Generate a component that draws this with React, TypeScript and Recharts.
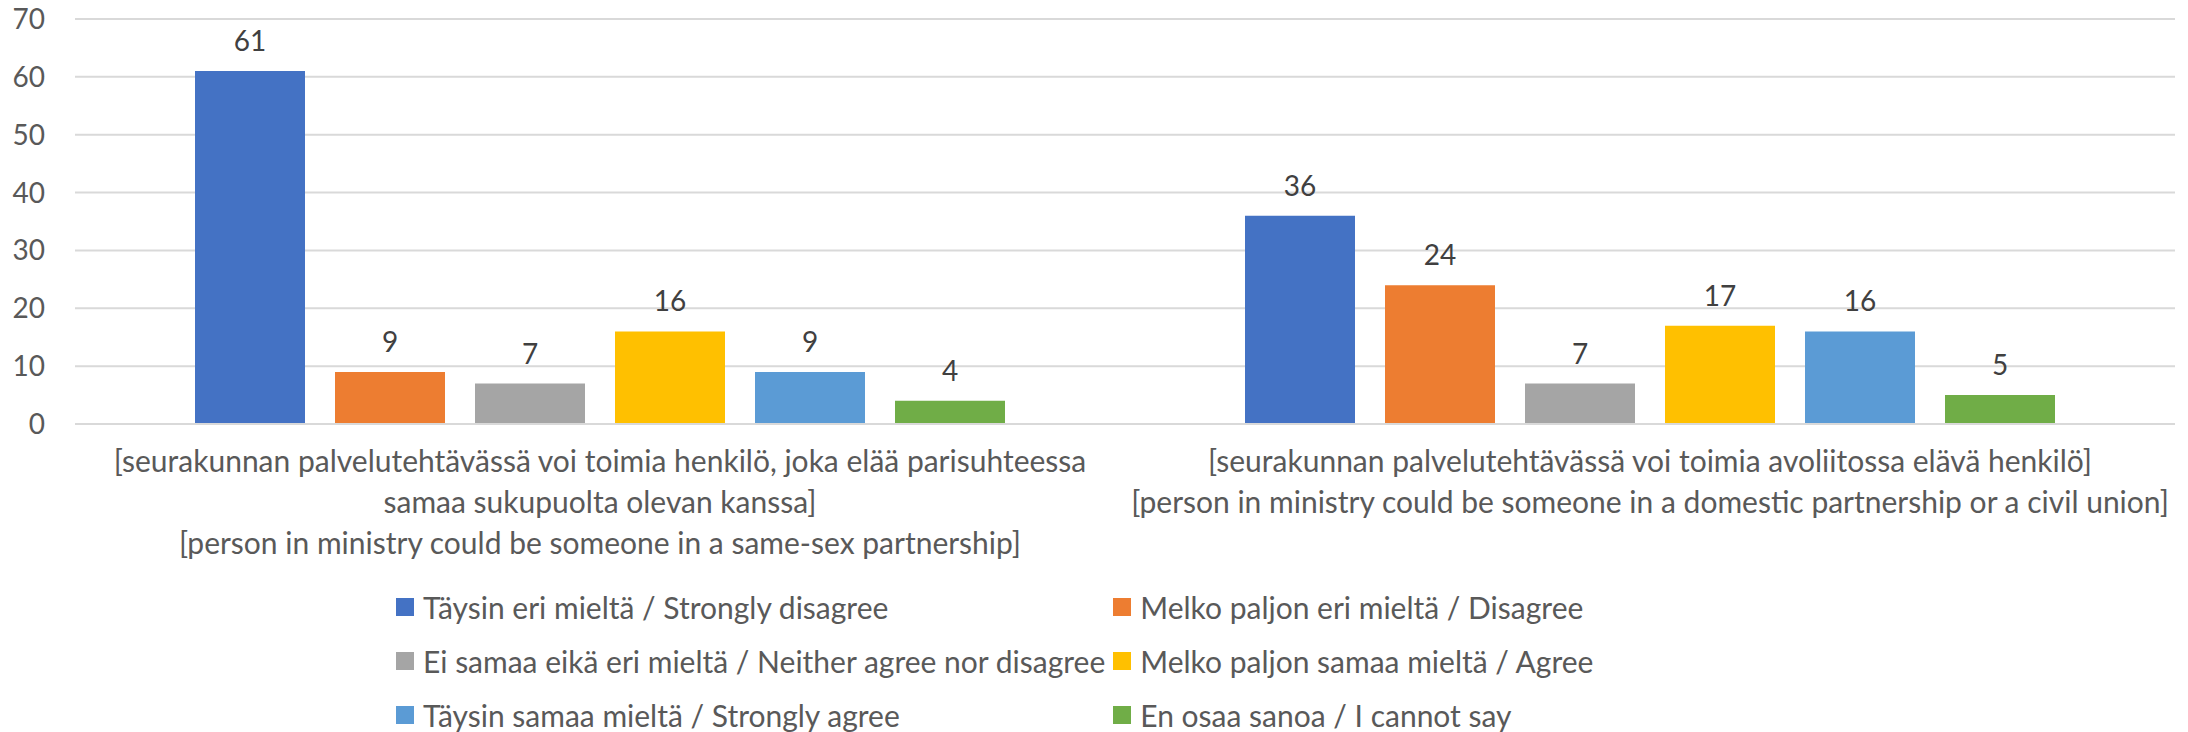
import React from 'react';
import { BarChart, Bar, XAxis, YAxis, CartesianGrid, Legend, LabelList } from 'recharts';

const categories = ['sameSex', 'domestic'];
const categoryLines = [
  [
    '[seurakunnan palvelutehtävässä voi toimia henkilö, joka elää parisuhteessa',
    'samaa sukupuolta olevan kanssa]',
    '[person in ministry could be someone in a same-sex partnership]'
  ],
  [
    '[seurakunnan palvelutehtävässä voi toimia avoliitossa elävä henkilö]',
    '[person in ministry could be someone in a domestic partnership or a civil union]'
  ]
];

const seriesNames = [
  'Täysin eri mieltä / Strongly disagree',
  'Melko paljon eri mieltä / Disagree',
  'Ei samaa eikä eri mieltä / Neither agree nor disagree',
  'Melko paljon samaa mieltä / Agree',
  'Täysin samaa mieltä / Strongly agree',
  'En osaa sanoa / I cannot say'
];
const seriesColors = ['#4472C4', '#ED7D31', '#A5A5A5', '#FFC000', '#5B9BD5', '#70AD47'];

const stronglyDisagree = [61, 36];
const disagree = [9, 24];
const neither = [7, 7];
const agree = [16, 17];
const stronglyAgree = [9, 16];
const cannotSay = [4, 5];
const seriesValues = [stronglyDisagree, disagree, neither, agree, stronglyAgree, cannotSay];

const yTicks = [0, 10, 20, 30, 40, 50, 60, 70];

const data = categories.map((c, i) => {
  const row: Record<string, string | number> = { category: c };
  seriesValues.forEach((vals, s) => {
    row['s' + s] = vals[i];
  });
  return row;
});

const FONT = 'Lato, "Liberation Sans", sans-serif';
const TEXT = '#595959';

function CategoryTick(props: any) {
  const { x, y, payload } = props;
  const idx = categories.indexOf(payload.value);
  const lines = categoryLines[idx] || [];
  return (
    <text x={x} y={y} textAnchor="middle" fill={TEXT} fontSize={30} fontFamily={FONT}>
      {lines.map((l, i) => (
        <tspan key={i} x={x} dy={i === 0 ? 48 : 41}>
          {l}
        </tspan>
      ))}
    </text>
  );
}

function LegendGrid(props: any) {
  // keep series order (the legend sorts by name otherwise)
  const items = [...(props.payload || [])].sort(
    (a: any, b: any) => seriesNames.indexOf(a.value) - seriesNames.indexOf(b.value)
  );
  return (
    <div
      style={{
        display: 'grid',
        gridTemplateColumns: 'max-content max-content',
        justifyContent: 'start',
        columnGap: 8,
        fontFamily: FONT,
        fontSize: 30,
        color: TEXT,
        lineHeight: '54px'
      }}
    >
      {items.map((it: any) => (
        <div key={it.value} style={{ display: 'flex', alignItems: 'center', whiteSpace: 'nowrap' }}>
          <span style={{ width: 18, height: 18, background: it.color, marginRight: 9, flex: 'none' }} />
          <span>{it.value}</span>
        </div>
      ))}
    </div>
  );
}

export default function App() {
  return (
    <div style={{ position: 'absolute', left: 0, top: 0, background: '#fff' }}>
      <BarChart
        width={2188}
        height={732}
        data={data}
        margin={{ top: 19, right: 13, left: 0, bottom: 148 }}
        barCategoryGap={120}
        barGap={30}
      >
        <CartesianGrid vertical={false} stroke="#d9d9d9" strokeWidth={2} />
        <XAxis
          dataKey="category"
          height={160}
          tick={<CategoryTick />}
          tickLine={false}
          tickSize={0}
          tickMargin={0}
          axisLine={{ stroke: '#d9d9d9', strokeWidth: 2 }}
          interval={0}
        />
        <YAxis
          width={75}
          domain={[0, 70]}
          ticks={yTicks}
          tickLine={false}
          axisLine={false}
          tickSize={0}
          tickMargin={30}
          tick={{ fill: TEXT, fontSize: 28, fontFamily: FONT }}
        />
        <Legend
          layout="vertical"
          align="center"
          verticalAlign="middle"
          content={<LegendGrid />}
          wrapperStyle={{ left: 396, top: 580, width: 1500, height: 162 }}
        />
        {seriesNames.map((name, s) => (
          <Bar key={name} dataKey={'s' + s} name={name} fill={seriesColors[s]} isAnimationActive={false}>
            <LabelList
              dataKey={'s' + s}
              position="top"
              offset={20}
              fill="#404040"
              fontSize={28}
              fontFamily={FONT}
            />
          </Bar>
        ))}
      </BarChart>
    </div>
  );
}
